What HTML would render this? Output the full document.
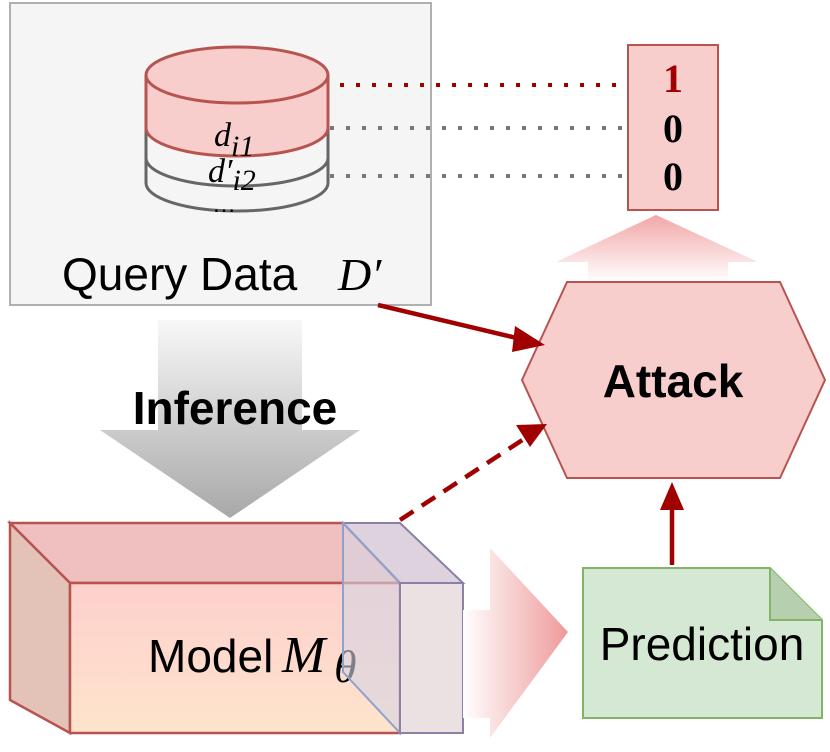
<!DOCTYPE html>
<html><head><style>body{margin:0;background:#fff}</style></head><body>
<svg width="830" height="747" viewBox="0 0 830 747" xmlns="http://www.w3.org/2000/svg" font-family="Liberation Sans, sans-serif">
<defs>
<linearGradient id="g1" x1="0" y1="0" x2="0" y2="1"><stop offset="0" stop-color="#f8f8f8"/><stop offset="1" stop-color="#a8a8a8"/></linearGradient>
<linearGradient id="g2" x1="0" y1="0" x2="1" y2="0"><stop offset="0" stop-color="#fff"/><stop offset="1" stop-color="#ee9a9a"/></linearGradient>
<linearGradient id="g3" x1="0" y1="1" x2="0" y2="0"><stop offset="0" stop-color="#fff"/><stop offset="1" stop-color="#f2a6a6"/></linearGradient>
<linearGradient id="g4" x1="0" y1="0" x2="0" y2="1"><stop offset="0" stop-color="#fdd0cc"/><stop offset="1" stop-color="#fee4cc"/></linearGradient>
</defs>
<rect x="10" y="3" width="421" height="302" fill="#f5f5f5" stroke="#b0b0b0" stroke-width="2"/>
<path d="M146 128 v55 a91 28 0 0 0 182 0 v-55" fill="#f5f5f5" stroke="#666" stroke-width="3"/>
<path d="M146 128 v30 a91 28 0 0 0 182 0 v-30" fill="#f5f5f5" stroke="#666" stroke-width="3"/>
<path d="M146 75 v53 a91 28 0 0 0 182 0 v-53" fill="#f8cecc" stroke="#b85450" stroke-width="3"/>
<ellipse cx="237" cy="75" rx="91" ry="28" fill="#f8cecc" stroke="#b85450" stroke-width="3"/>
<text x="214" y="146" font-family="Liberation Serif, serif" font-style="italic" font-size="34">d<tspan font-size="30" dy="10">i1</tspan></text>
<text x="208" y="182" font-family="Liberation Serif, serif" font-style="italic" font-size="34">d′<tspan font-size="30" dy="8">i2</tspan></text>
<text x="212" y="212" font-size="24">…</text>
<text x="62" y="290" font-size="46">Query Data</text>
<text x="338" y="290" font-family="Liberation Serif, serif" font-style="italic" font-size="46">D′</text>
<line x1="340" y1="85" x2="622" y2="85" stroke="#a00000" stroke-width="4" stroke-dasharray="4 12"/>
<line x1="330" y1="128" x2="622" y2="128" stroke="#777" stroke-width="4" stroke-dasharray="4 12"/>
<line x1="330" y1="176" x2="622" y2="176" stroke="#777" stroke-width="4" stroke-dasharray="4 12"/>
<rect x="628" y="45" width="90" height="165" fill="#f8cecc" stroke="#b85450" stroke-width="2"/>
<g font-family="Liberation Serif, serif" font-weight="bold" font-size="40" text-anchor="middle">
<text x="673" y="92" fill="#a00000">1</text><text x="673" y="142">0</text><text x="673" y="190">0</text></g>
<polygon points="588,282 588,262 556,262 656,215 758,262 728,262 728,282" fill="url(#g3)"/>
<polygon points="522,380 567,282 780,282 825,380 780,478 567,478" fill="#f8cecc" stroke="#b85450" stroke-width="2"/>
<text x="673" y="397" text-anchor="middle" font-weight="bold" font-size="46">Attack</text>
<polygon points="158,320 302,320 302,430 360,430 230,518 100,430 158,430" fill="url(#g1)"/>
<text x="235" y="424" text-anchor="middle" font-weight="bold" font-size="46">Inference</text>
<polygon points="10,523 343,523 400,583 70,583" fill="#efc0bf" stroke="#b85450" stroke-width="2.5"/>
<polygon points="10,523 70,583 70,733 10,700" fill="#e3c3b7" stroke="#b85450" stroke-width="2.5"/>
<rect x="70" y="583" width="330" height="150" fill="url(#g4)" stroke="#b85450" stroke-width="2.5"/>
<text x="148" y="672" font-size="46">Model</text>
<text x="282" y="672" font-family="Liberation Serif, serif" font-style="italic" font-size="52">M</text>
<text x="334" y="682" font-family="Liberation Serif, serif" font-style="italic" font-size="46">θ</text>
<polygon points="343,523 400,523 463,583 400,583" fill="#d8cad8" fill-opacity="0.85" stroke="#8a80a8" stroke-width="2"/>
<polygon points="343,523 400,583 400,733 343,672" fill="#d6d4e2" fill-opacity="0.6" stroke="#8fa2cc" stroke-width="2"/>
<rect x="400" y="583" width="63" height="150" fill="#ebe1e3" stroke="#8a80a8" stroke-width="2"/>
<polygon points="463,610 490,610 490,548 568,632 490,738 490,718 463,718" fill="url(#g2)"/>
<path d="M583 568 H770 L822 620 V718 H583 Z" fill="#d5e8d4" stroke="#82b366" stroke-width="2"/>
<path d="M770 568 V620 H822" fill="#b6cfae" stroke="#82b366" stroke-width="2"/>
<text x="702" y="660" text-anchor="middle" font-size="46">Prediction</text>
<line x1="378" y1="305" x2="525" y2="340" stroke="#a00000" stroke-width="4.5"/>
<polygon points="545,345 515,326 512,352" fill="#a00000"/>
<line x1="400" y1="520" x2="530" y2="435" stroke="#a00000" stroke-width="4.5" stroke-dasharray="16 10"/>
<polygon points="547,424 516,425 530,447" fill="#a00000"/>
<line x1="672" y1="565" x2="672" y2="505" stroke="#a00000" stroke-width="4.5"/>
<polygon points="672,482 660,510 684,510" fill="#a00000"/>
</svg>
</body></html>
